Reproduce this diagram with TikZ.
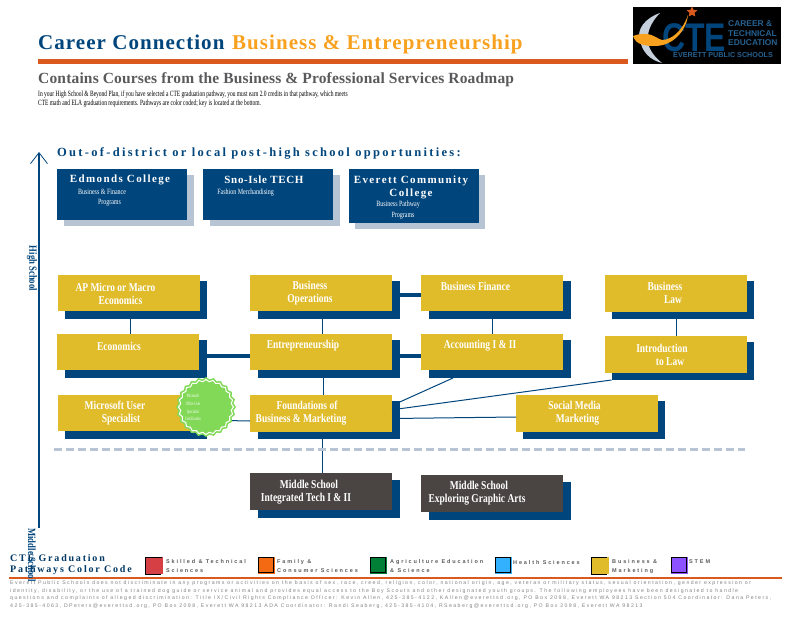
\documentclass[tikz,border=0pt]{standalone}
\usepackage{fontspec}
\setmainfont{Liberation Serif}
\newfontfamily\titlefont[LetterSpace=5]{Liberation Serif}
\newfontfamily\roadfont[LetterSpace=1.1]{Liberation Serif}
\newfontfamily\oppfont[LetterSpace=18.3]{Liberation Serif}
\newfontfamily\collfont[LetterSpace=12.5]{Liberation Serif}
\newfontfamily\snofont[LetterSpace=6]{Liberation Serif}
\newfontfamily\boxfont[FakeStretch=.79]{Liberation Serif}
\newfontfamily\planfont[FakeStretch=.685]{Liberation Serif}
\newfontfamily\subfont[FakeStretch=.75]{Liberation Serif}
\newfontfamily\burstfont[FakeStretch=.62]{Liberation Serif}
\newfontfamily\keyfont[LetterSpace=18]{Liberation Serif}
\newfontfamily\smallfont[LetterSpace=34]{Liberation Sans}
\newfontfamily\footfont[LetterSpace=27.5]{Liberation Sans}
\newfontfamily\logofont[FakeStretch=.8]{Liberation Sans}
\newfontfamily\logotext{Liberation Sans}
\usetikzlibrary{shapes.geometric,arrows.meta}
\definecolor{cteblue}{HTML}{00457C}
\definecolor{ctegold}{HTML}{E0BC2B}
\definecolor{ctedark}{HTML}{4A4443}
\definecolor{cteorange}{HTML}{F7A11F}
\definecolor{cterule}{HTML}{D9591E}
\definecolor{ctegray}{HTML}{5A5A5C}
\definecolor{ctemist}{HTML}{B7C4D3}
\definecolor{ctegreen}{HTML}{82D957}
\tikzset{
  plainbox/.style={inner sep=0pt,outer sep=0pt,minimum width=142pt,minimum height=36pt},
  goldbox/.style={plainbox,fill=ctegold},
  darkbox/.style={plainbox,fill=ctedark},
  shadebox/.style={plainbox,fill=cteblue,minimum height=38pt},
  collbox/.style={plainbox,fill=cteblue,minimum width=130pt,minimum height=51pt},
  collshade/.style={plainbox,fill=ctemist,minimum width=130pt,minimum height=51pt},
  boxtext/.style={inner sep=0pt,align=center,text=white,font=\boxfont\bfseries\fontsize{12}{13}\selectfont},
  colltext/.style={inner sep=0pt,align=center,text=white,font=\collfont\bfseries\fontsize{11}{13}\selectfont},
  collsub/.style={inner sep=0pt,align=center,text=white,font=\subfont\fontsize{8}{10}\selectfont},
  swatch/.style={inner sep=0pt,outer sep=0pt,minimum size=17pt},
  swatchline/.style={draw=black,line width=1pt},
  keytext/.style={inner sep=0pt,anchor=west,align=left,text=ctegray,font=\smallfont\bfseries\fontsize{5.5}{9}\selectfont},
  thinlink/.style={draw=cteblue,line width=1pt},
  thicklink/.style={draw=cteblue,line width=4pt},
}
\begin{document}
\begin{tikzpicture}[x=1pt,y=-1pt]
\useasboundingbox (0,0) rectangle (800,618);

\node[inner sep=0pt,anchor=base west,text=cteblue,font=\titlefont\bfseries\fontsize{21}{24}\selectfont] (title) at (38,50) {Career Connection};
\node[inner sep=0pt,anchor=base west,text=cteorange,font=\titlefont\bfseries\fontsize{21}{24}\selectfont] (pathway) at (232,50) {Business \& Entrepreneurship};
\coordinate (rule-l) at (38,61.5);
\coordinate (rule-r) at (628,61.5);
\draw[cterule,line width=4.5pt] (rule-l) -- (rule-r);
\node[inner sep=0pt,anchor=base west,text=ctegray,font=\roadfont\bfseries\fontsize{15.5}{18}\selectfont] (roadmap) at (38,83) {Contains Courses from the Business \& Professional Services Roadmap};
\node[inner sep=0pt,anchor=north west,align=left,font=\planfont\fontsize{8}{9.5}\selectfont] (intro) at (38,90.5) {In your High School \& Beyond Plan, if you have selected a CTE graduation pathway, you must earn 2.0 credits in that pathway, which meets\\CTE math and ELA graduation requirements. Pathways are color coded; key is located at the bottom.};

\fill[black] (633,7) rectangle (781,64);
\fill[ctemist!80!white] (660,13) .. controls (645,18) and (636,30) .. (640,40) .. controls (642,52) and (650,60) .. (662,63) .. controls (652,55) and (646,45) .. (648,35) .. controls (649,27) and (654,19) .. (660,13) -- cycle;
\node[inner sep=0pt,anchor=base west,text=cteblue,font=\logofont\bfseries\fontsize{40}{40}\selectfont] (logo-cte) at (662,52) {CTE};
\fill[cteorange] (633,36) .. controls (650,30) and (655,38) .. (662,40) .. controls (672,40) and (683,30) .. (688,15) .. controls (686,32) and (672,46) .. (655,46) .. controls (645,46) and (636,45) .. (633,36) -- cycle;
\node[star,star points=5,star point ratio=2,fill=cterule,inner sep=0pt,minimum size=11pt] (logo-star) at (692,12) {};
\node[inner sep=0pt,anchor=north west,align=left,text=cteblue!85!white,font=\logotext\bfseries\fontsize{8.4}{9.6}\selectfont] (logo-career) at (728,20.5) {CAREER \&\\TECHNICAL\\EDUCATION};
\node[inner sep=0pt,anchor=base west,text=cteblue!85!white,font=\logotext\bfseries\fontsize{7.2}{8}\selectfont] (logo-eps) at (673,58) {EVERETT PUBLIC SCHOOLS};

\coordinate (path-b) at (39,528);
\coordinate (path-t) at (39,152);
\draw[cteblue,line width=2pt,-{Straight Barb[length=11pt,width=17pt,line width=.8pt]}] (path-b) -- (path-t);

\node[inner sep=0pt,anchor=base west,text=cteblue,font=\oppfont\bfseries\fontsize{12.5}{15}\selectfont] (opp) at (57,156) {Out-of-district or local post-high school opportunities:};

\node[collshade] (edm-s) at (128.5,200.5) {};
\node[collbox] (edm) at (122,194.5) {};
\node[colltext] (edm-t) at (120,180) {Edmonds College};
\node[collsub] (edm-u) at (102,198) {Business \& Finance\\\hspace{15pt}Programs};
\node[collshade] (sno-s) at (274.5,200.5) {};
\node[collbox] (sno) at (268,194.5) {};
\node[colltext,font=\snofont\bfseries\fontsize{11}{13}\selectfont] (sno-t) at (264,180) {Sno-Isle TECH};
\node[collsub] (sno-u) at (245.5,193) {Fashion Merchandising};
\node[collshade,minimum height=54pt] (eve-s) at (420,202) {};
\node[collbox,minimum height=54pt] (eve) at (414,196) {};
\node[colltext] (eve-t) at (411,187) {Everett Community\\College};
\node[collsub,font=\subfont\fontsize{8}{11}\selectfont] (eve-u) at (398,210) {Business Pathway\\\hspace{10pt}Programs};

\node[shadebox] (ap-s) at (136,299.5) {};
\node[goldbox] (ap) at (129,293) {};
\node[boxtext] (ap-t) at (115.5,293.5) {AP Micro or Macro\\\hspace{10pt}Economics};
\node[shadebox] (econ-s) at (135.5,359) {};
\node[goldbox] (econ) at (128,352) {};
\node[boxtext] (econ-t) at (119,346) {Economics};
\node[shadebox] (mus-s) at (136,420) {};
\node[goldbox] (mus) at (129,413) {};
\node[boxtext] (mus-t) at (115,413.5) {Microsoft User\\\hspace{12pt}Specialist};

\node[shadebox] (ops-s) at (328.5,299.5) {};
\node[goldbox] (ops) at (321,293) {};
\node[boxtext] (ops-t) at (310,293.5) {Business\\Operations};
\node[shadebox] (ent-s) at (328.5,359) {};
\node[goldbox] (ent) at (321,352) {};
\node[boxtext] (ent-t) at (303,346) {Entrepreneurship};
\node[shadebox] (fnd-s) at (328.5,420) {};
\node[goldbox,minimum height=37pt] (fnd) at (321,413.5) {};
\node[boxtext] (fnd-t) at (301,413.5) {\hspace{12pt}Foundations of\\Business \& Marketing};

\node[shadebox] (fin-s) at (499.5,300) {};
\node[goldbox] (fin) at (492,293) {};
\node[boxtext] (fin-t) at (475.5,286) {Business Finance};
\node[shadebox] (acc-s) at (499.5,359) {};
\node[goldbox] (acc) at (492,352) {};
\node[boxtext] (acc-t) at (480,346) {Accounting I \& II};

\node[shadebox] (law-s) at (682.5,300) {};
\node[goldbox,minimum height=37pt] (law) at (676,293.5) {};
\node[boxtext] (law-t) at (665,292.5) {Business\\\hspace{16pt}Law};
\node[shadebox] (itl-s) at (682.5,361) {};
\node[goldbox,minimum height=37pt] (itl) at (676,354.5) {};
\node[boxtext] (itl-t) at (662,354.5) {Introduction\\\hspace{16pt}to Law};

\node[shadebox] (soc-s) at (594,420) {};
\node[goldbox,minimum height=37pt] (soc) at (587,413.5) {};
\node[boxtext] (soc-t) at (574.5,413.5) {Social Media\\\hspace{6pt}Marketing};

\node[shadebox] (tech-s) at (328.5,498.5) {};
\node[darkbox,minimum height=37pt] (tech) at (321,491.5) {};
\node[boxtext] (tech-t) at (306,492.5) {\hspace{6pt}Middle School\\Integrated Tech I \& II};
\node[shadebox] (art-s) at (499.5,500.5) {};
\node[darkbox,minimum height=37pt] (art) at (492,493.5) {};
\node[boxtext] (art-t) at (477,493.5) {\hspace{4pt}Middle School\\Exploring Graphic Arts};

\draw[thinlink] ([xshift=1pt]ap.south) -- ([xshift=2pt]econ.north);
\draw[thinlink] ([xshift=1pt]ops.south) -- ([xshift=1pt]ent.north);
\draw[thinlink] ([xshift=2pt]ent.south) -- ([xshift=2pt]fnd.north);
\draw[thinlink] ([xshift=1pt]fnd.south) -- ([xshift=1pt]tech.north);
\draw[thinlink] (fin.south) -- (acc.north);
\draw[thinlink] (law.south) -- (itl.north);
\draw[thicklink] ([yshift=-4pt]econ.east) -- ([yshift=-4pt]ent.west);
\draw[thicklink] ([yshift=-2pt]ops.east) -- ([yshift=-2pt]fin.west);
\draw[thicklink] ([yshift=-4pt]ent.east) -- ([yshift=-4pt]acc.west);
\draw[thinlink] ([yshift=8pt]fnd.east) -- ([xshift=-46.5pt]acc-s.south);
\draw[thinlink] ([yshift=3.7pt]fnd.east) -- (itl-s.south west);
\draw[thinlink] ([yshift=-5pt]fnd.east) -- ([yshift=-3.5pt]soc.west);
\draw[thinlink] ([yshift=-7pt]mus.east) -- ([yshift=-7.5pt]fnd.west);

\node[star,star points=24,star point ratio=1.08,fill=ctegreen,inner sep=0pt,minimum size=60pt] (burst-o) at (206,407) {};
\node[star,star points=24,star point ratio=1.08,fill=ctegreen,draw=white,line width=1pt,inner sep=0pt,minimum size=55pt] (burst) at (206,407) {};
\node[inner sep=0pt,align=center,text=white,font=\burstfont\fontsize{5}{7.7}\selectfont] (burst-t) at (193,407.5) {Microsoft\\Office User\\Specialist\\Certification};

\coordinate (cut-l) at (54,449.5);
\coordinate (cut-r) at (745,449.5);
\draw[ctemist,line width=3pt,dash pattern=on 8pt off 4pt] (cut-l) -- (cut-r);

\node[inner sep=0pt,anchor=north west,align=left,text=cteblue!80!black,font=\keyfont\bfseries\fontsize{10}{11}\selectfont] (key) at (10,554) {CTE Graduation\\Pathways Color Code};

\node[swatch,fill={rgb,255:red,214;green,63;blue,67}] (sw-skill) at (154,565.5) {};
\draw[swatchline] ([xshift=-1pt]sw-skill.north east) -- (sw-skill.north west) -- (sw-skill.south west) -- ([xshift=-2pt]sw-skill.south east);
\node[keytext] (sw-skill-t) at (166,566.5) {Skilled \& Technical\\Sciences};
\node[swatch,fill={rgb,255:red,244;green,106;blue,18}] (sw-fam) at (266,565.5) {};
\draw[swatchline] ([shift={(.5,.5)}]sw-fam.north west) rectangle ([shift={(-1.5,-1.5)}]sw-fam.south east);
\node[keytext] (sw-fam-t) at (277,566.5) {Family \&\\Consumer Sciences};
\node[swatch,fill={rgb,255:red,0;green,128;blue,55}] (sw-agr) at (378,565.5) {};
\draw[swatchline] ([shift={(.5,.5)}]sw-agr.north west) rectangle ([shift={(-1.5,-1.5)}]sw-agr.south east);
\node[keytext] (sw-agr-t) at (390,566.5) {Agriculture Education\\\& Science};
\node[swatch,fill={rgb,255:red,51;green,177;blue,255}] (sw-hlt) at (503,565.5) {};
\draw[swatchline] ([shift={(.5,.5)}]sw-hlt.north west) rectangle ([shift={(-1.5,-1.5)}]sw-hlt.south east);
\node[keytext] (sw-hlt-t) at (513,562.5) {Health Sciences};
\node[swatch,fill=ctegold] (sw-bus) at (600,565.5) {};
\draw[swatchline] ([xshift=-2pt]sw-bus.north east) -- (sw-bus.north west) -- (sw-bus.south west) -- ([xshift=-2pt]sw-bus.south east);
\node[keytext] (sw-bus-t) at (612,566.5) {Business \&\\Marketing};
\node[swatch,fill={rgb,255:red,140;green,82;blue,255}] (sw-stem) at (679,565.5) {};
\draw[swatchline] ([shift={(.5,.5)}]sw-stem.north west) rectangle ([shift={(-1.5,-1.5)}]sw-stem.south east);
\node[keytext] (sw-stem-t) at (689,561.5) {STEM};

\coordinate (foot-l) at (9,577.7);
\coordinate (foot-r) at (782,577.7);
\draw[cterule,line width=2pt] (foot-l) -- (foot-r);
\node[inner sep=0pt,anchor=north west,align=left,text=ctegray!75,font=\footfont\fontsize{5.2}{7.5}\selectfont] (notice) at (10,581) {Everett Public Schools does not discriminate in any programs or activities on the basis of sex, race, creed, religion, color, national origin, age, veteran or military status, sexual orientation, gender expression or\\identity, disability, or the use of a trained dog guide or service animal and provides equal access to the Boy Scouts and other designated youth groups. The following employees have been designated to handle\\questions and complaints of alleged discrimination: Title IX/Civil Rights Compliance Officer: Kevin Allen, 425-385-4122, KAllen@everettsd.org, PO Box 2098, Everett WA 98213 Section 504 Coordinator: Dana Peters,\\425-385-4063, DPeters@everettsd.org, PO Box 2098, Everett WA 98213 ADA Coordinator: Randi Seaberg, 425-385-4104, RSeaberg@everettsd.org, PO Box 2098, Everett WA 98213};

\node[inner sep=0pt,rotate=-90,text=cteblue,font=\boxfont\bfseries\fontsize{11}{12}\selectfont] (high) at (32,268.5) {High School};
\node[inner sep=0pt,rotate=-90,text=cteblue,font=\boxfont\bfseries\fontsize{11}{12}\selectfont] (middle) at (32,555) {Middle School};
\end{tikzpicture}
\end{document}
